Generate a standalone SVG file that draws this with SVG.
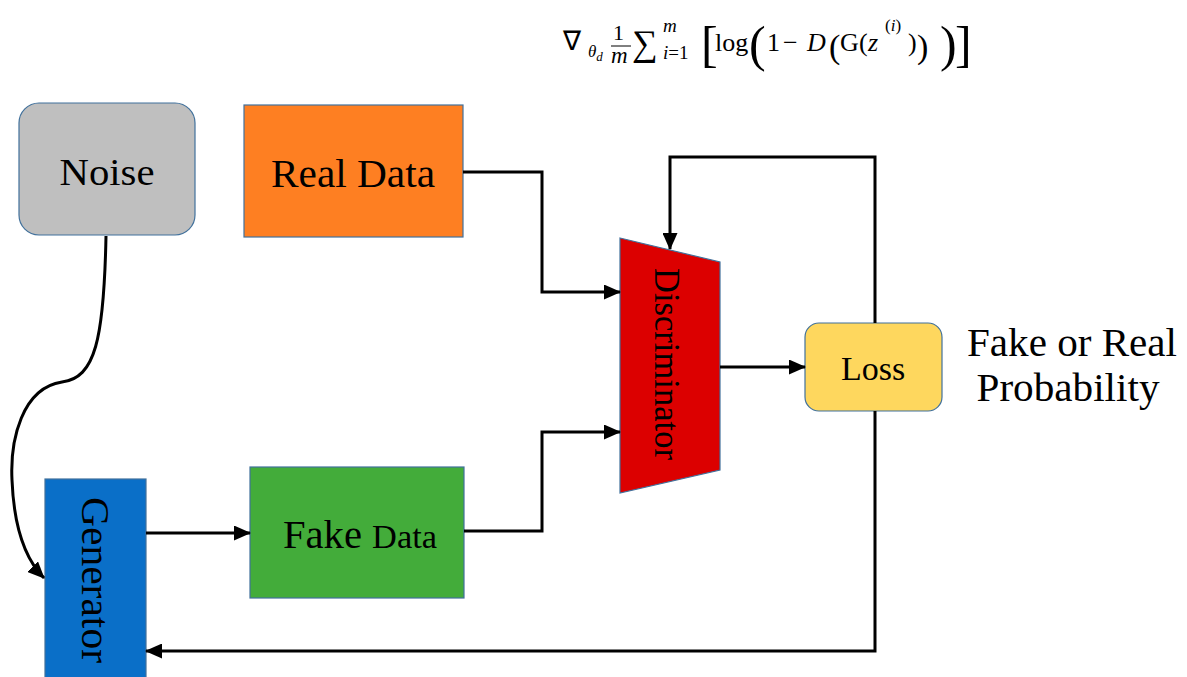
<svg xmlns="http://www.w3.org/2000/svg" width="1187" height="677" viewBox="0 0 1187 677">
<defs>
<style>
.t{font-family:"Liberation Serif","Times New Roman",serif;fill:#000}
.box{stroke:#41719c;stroke-width:1.2}
.c{fill:none;stroke:#000;stroke-width:3}
.m{font-family:"Liberation Serif","Times New Roman",serif;fill:#000}
</style>
<marker id="ah" viewBox="0 0 17 15" refX="16" refY="7.5" markerWidth="17" markerHeight="15" markerUnits="userSpaceOnUse" orient="auto">
<path d="M0,0 L17,7.5 L0,15 Z" fill="#000"/>
</marker>
</defs>
<rect width="1187" height="677" fill="#fff"/>

<g id="formula" class="m">
<text x="563" y="50" font-size="27">∇</text>
<text x="588" y="57" font-size="17" font-style="italic">θ<tspan font-size="13" dy="4">d</tspan></text>
<text x="613" y="40" font-size="22">1</text>
<line x1="611" y1="46" x2="631" y2="46" stroke="#000" stroke-width="1"/>
<text x="611" y="63" font-size="23" font-style="italic">m</text>
<text x="632" y="55" font-size="36">∑</text>
<text x="663" y="32" font-size="19" font-style="italic">m</text>
<text x="663" y="59" font-size="19"><tspan font-style="italic">i</tspan>=1</text>
<text x="701" y="61" font-size="50">[</text>
<text x="715" y="51" font-size="26">log</text>
<text x="749" y="61" font-size="50">(</text>
<text x="767" y="51" font-size="26">1</text>
<text x="783" y="51" font-size="26">−</text>
<text x="807" y="51" font-size="26" font-style="italic">D</text>
<text x="829" y="58" font-size="34">(</text>
<text x="840" y="51" font-size="26">G</text>
<text x="859" y="51" font-size="26">(</text>
<text x="868" y="51" font-size="26" font-style="italic">z</text>
<text x="885" y="31" font-size="17">(<tspan font-style="italic">i</tspan>)</text>
<text x="908" y="51" font-size="26">)</text>
<text x="917" y="58" font-size="34">)</text>
<text x="940" y="61" font-size="50">)</text>
<text x="955" y="61" font-size="50">]</text>
</g>

<g id="noise">
<rect class="box" x="19" y="103" width="176" height="132" rx="20" fill="#bfbfbf"/>
<text class="t" x="107" y="185" font-size="38" text-anchor="middle" textLength="95" lengthAdjust="spacingAndGlyphs">Noise</text>
</g>

<g id="real-data">
<rect class="box" x="244" y="105" width="219" height="132" fill="#fe7f22"/>
<text class="t" x="353" y="187" font-size="39" text-anchor="middle" textLength="164" lengthAdjust="spacingAndGlyphs">Real Data</text>
</g>

<g id="discriminator">
<polygon class="box" points="620,238 720,262 720,470 620,493" fill="#dc0000"/>
<text class="t" transform="translate(655,364) rotate(90)" font-size="35" text-anchor="middle" textLength="192" lengthAdjust="spacingAndGlyphs">Discriminator</text>
</g>

<g id="loss">
<rect class="box" x="805" y="323" width="137" height="88" rx="14" fill="#fed75e"/>
<text class="t" x="873" y="380" font-size="34" text-anchor="middle">Loss</text>
</g>

<g id="label-prob">
<text class="t" x="1072" y="356" font-size="40" text-anchor="middle" textLength="210" lengthAdjust="spacingAndGlyphs">Fake or Real</text>
<text class="t" x="1068" y="401" font-size="40" text-anchor="middle" textLength="183" lengthAdjust="spacingAndGlyphs">Probability</text>
</g>

<g id="generator">
<rect class="box" x="45" y="479" width="101" height="200" fill="#0a6fc8"/>
<text class="t" transform="translate(82,580) rotate(90)" font-size="41" text-anchor="middle" textLength="166" lengthAdjust="spacingAndGlyphs">Generator</text>
</g>

<g id="fake-data">
<rect class="box" x="250" y="467" width="214" height="131" fill="#43ac3a"/>
<text class="t" x="283" y="548" font-size="39" textLength="154" lengthAdjust="spacingAndGlyphs">Fake <tspan font-size="33">Data</tspan></text>
</g>

<g id="connectors">
<path class="c" d="M463,172 H542 V292 H620" marker-end="url(#ah)"/>
<path class="c" d="M464,531 H542 V432 H620" marker-end="url(#ah)"/>
<path class="c" d="M720,367 H805" marker-end="url(#ah)"/>
<path class="c" d="M875,323 V157 H670 V249" marker-end="url(#ah)"/>
<path class="c" d="M875,411 V651 H146" marker-end="url(#ah)"/>
<path class="c" d="M146,533 H250" marker-end="url(#ah)"/>
<path class="c" d="M106,236 C104,340 95,378 62,382 C22,388 10,440 12,480 C14,530 26,560 44,578" marker-end="url(#ah)"/>
</g>
</svg>
